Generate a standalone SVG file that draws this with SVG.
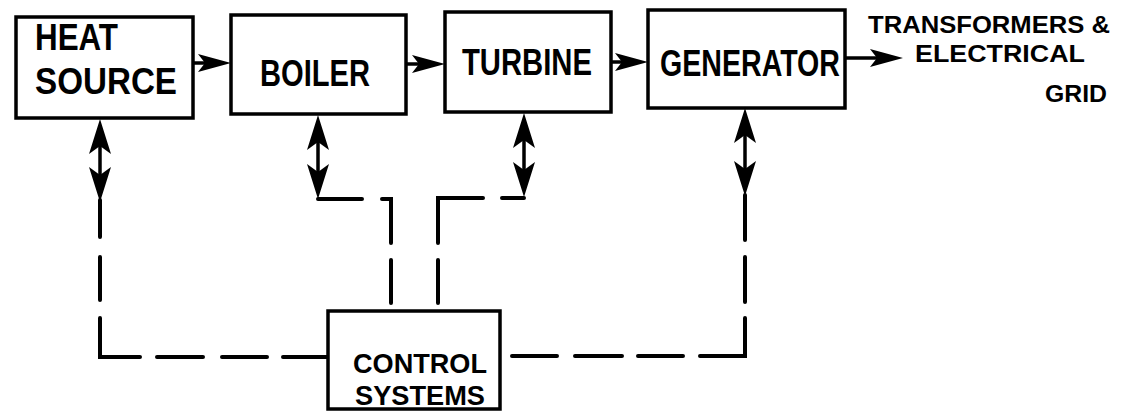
<svg xmlns="http://www.w3.org/2000/svg" xmlns:xlink="http://www.w3.org/1999/xlink" width="1128" height="411" viewBox="0 0 1128 411">
<style>
.box{fill:#fff;stroke:#000;stroke-width:3.5}
.t{font-family:"Liberation Sans",Arial,sans-serif;font-weight:bold;font-size:36px;fill:#000}
.c{font-family:"Liberation Sans",Arial,sans-serif;font-weight:bold;font-size:28px;fill:#000}
.s{font-family:"Liberation Sans",Arial,sans-serif;font-weight:bold;font-size:24px;fill:#000}
.ln{fill:none;stroke:#000;stroke-width:4;stroke-linecap:round;stroke-linejoin:miter}
.sh{fill:none;stroke:#000;stroke-width:3.5}
</style>
<defs>
<path id="ah" d="M0,0 L-35,-11 L-27,0 L-35,11 Z" fill="#000"/>
<path id="ahs" d="M0,0 L-33,-9 L-26,0 L-33,9 Z" fill="#000"/>
</defs>
<rect width="1128" height="411" fill="#fff"/>
<g id="connectors">
  <line class="sh" x1="193" y1="63" x2="210" y2="63"/>
  <use xlink:href="#ahs" transform="translate(231,63)"/>
  <line class="sh" x1="406" y1="64" x2="420" y2="64"/>
  <use xlink:href="#ahs" transform="translate(445,64)"/>
  <line class="sh" x1="611" y1="62" x2="625" y2="62"/>
  <use xlink:href="#ahs" transform="translate(648,62)"/>
  <line class="sh" x1="845" y1="58" x2="880" y2="58"/>
  <use xlink:href="#ahs" transform="translate(903,58)"/>
  <line class="sh" x1="100" y1="140" x2="100" y2="180"/>
  <use xlink:href="#ah" transform="translate(100,119) rotate(-90)"/>
  <use xlink:href="#ah" transform="translate(100,202) rotate(90)"/>
  <path class="ln" d="M100,200 L100,237 M100,257 L100,300 M100,318 L100,357 L140,357 M157,357 L203,357 M222,357 L267,357 M283,357 L328,357"/>
  <line class="sh" x1="318" y1="135" x2="318" y2="180"/>
  <use xlink:href="#ah" transform="translate(318,115) rotate(-90)"/>
  <use xlink:href="#ah" transform="translate(318,199) rotate(90)"/>
  <path class="ln" d="M318,199 L362,199 M382,199 L391,199 L391,243 M391,260 L391,303"/>
  <line class="sh" x1="524" y1="133" x2="524" y2="178"/>
  <use xlink:href="#ah" transform="translate(524,113) rotate(-90)"/>
  <use xlink:href="#ah" transform="translate(524,197) rotate(90)"/>
  <path class="ln" d="M524,198 L502,198 M483,198 L438,198 L438,243 M438,260 L438,303"/>
  <line class="sh" x1="745" y1="128" x2="745" y2="175"/>
  <use xlink:href="#ah" transform="translate(745,108) rotate(-90)"/>
  <use xlink:href="#ah" transform="translate(745,196) rotate(90)"/>
  <path class="ln" d="M745,195 L745,240 M745,257 L745,302 M745,318 L745,356 L700,356 M683,356 L638,356 M622,356 L575,356 M557,356 L512,356"/>
</g>
<g id="heat-source">
  <rect class="box" x="16" y="17" width="177" height="101"/>
  <text class="t" x="35" y="50" textLength="83" lengthAdjust="spacingAndGlyphs">HEAT</text>
  <text class="t" x="35" y="94" textLength="142" lengthAdjust="spacingAndGlyphs">SOURCE</text>
</g>
<g id="boiler">
  <rect class="box" x="231" y="15" width="175" height="99"/>
  <text class="t" x="260" y="86" textLength="110" lengthAdjust="spacingAndGlyphs">BOILER</text>
</g>
<g id="turbine">
  <rect class="box" x="445" y="12" width="166" height="100"/>
  <text class="t" x="462" y="75" textLength="130" lengthAdjust="spacingAndGlyphs">TURBINE</text>
</g>
<g id="generator">
  <rect class="box" x="648" y="10" width="197" height="98"/>
  <text class="t" x="660" y="76" textLength="180" lengthAdjust="spacingAndGlyphs">GENERATOR</text>
</g>
<g id="grid-label">
  <text class="s" x="868" y="33" textLength="242" lengthAdjust="spacingAndGlyphs">TRANSFORMERS &amp;</text>
  <text class="s" x="915" y="62" textLength="170" lengthAdjust="spacingAndGlyphs">ELECTRICAL</text>
  <text class="s" x="1045" y="102" textLength="62" lengthAdjust="spacingAndGlyphs">GRID</text>
</g>
<g id="control-systems">
  <rect class="box" x="328" y="311" width="172" height="98"/>
  <text class="c" x="353" y="373" textLength="134" lengthAdjust="spacingAndGlyphs">CONTROL</text>
  <text class="c" x="355" y="405" textLength="130" lengthAdjust="spacingAndGlyphs">SYSTEMS</text>
</g>
</svg>
